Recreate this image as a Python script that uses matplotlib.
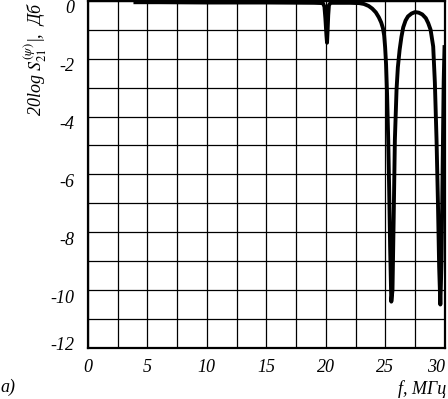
import matplotlib.pyplot as plt
import matplotlib.transforms as mtransforms
import numpy as np

# f, MHz and transmission, dB
freq = [4.0, 6.0, 10.0, 15.0, 19.0, 19.75, 19.88, 19.96, 20.05, 20.1, 20.15,
        20.2, 20.26, 20.4, 21.0, 22.0, 22.8, 23.2, 23.6, 23.9, 24.2, 24.45,
        24.65, 24.8, 24.9, 24.98, 25.06, 25.15, 25.24, 25.32, 25.4, 25.5, 25.6,
        25.7, 25.8, 25.94, 26.05, 26.2, 26.35, 26.5, 26.7, 26.9, 27.2, 27.5,
        27.8, 28.1, 28.4, 28.6, 28.8, 29.02, 29.16, 29.3, 29.42, 29.52, 29.62,
        29.72, 29.82, 29.9, 29.97]
gain = [-0.05, -0.05, -0.06, -0.06, -0.07, -0.08, -0.2, -0.6, -1.2, -1.45, -1.0,
        -0.5, -0.15, -0.07, -0.07, -0.07, -0.08, -0.11, -0.18, -0.27, -0.4, -0.57,
        -0.75, -0.95, -1.2, -1.6, -2.2, -3.3, -4.79, -6.5, -8.5, -10.4, -10.0,
        -7.5, -4.8, -3.07, -2.3, -1.69, -1.25, -0.92, -0.68, -0.54, -0.44, -0.39,
        -0.41, -0.47, -0.6, -0.77, -1.0, -1.58, -2.83, -4.8, -7.0, -9.2, -10.5,
        -9.0, -5.5, -2.8, -1.6]

x_ticks = [0, 5, 10, 15, 20, 25, 30]
y_ticks = [0, -2, -4, -6, -8, -10, -12]

plt.rcParams['font.family'] = ['Liberation Serif', 'DejaVu Serif']
plt.rcParams['mathtext.fontset'] = 'stix'
plt.rcParams['axes.unicode_minus'] = False

fig = plt.figure(figsize=(4.48, 3.99), dpi=100)
ax = fig.add_axes([0.196, 0.128, 0.797, 0.870])
ax.plot(freq, gain, color='black', lw=2.8, solid_joinstyle='round', zorder=5)

ax.set_xlim(0, 30)
ax.set_ylim(-12, 0)
ax.set_xticks(x_ticks)
ax.set_yticks(y_ticks)
ax.set_xticks(np.arange(0, 30.1, 2.5), minor=True)
ax.set_yticks(np.arange(-12, 0.1, 1), minor=True)
ax.grid(True, which='both', color='black', lw=0.9)
ax.tick_params(which='both', length=0, labelsize=13)
ax.tick_params(axis='x', pad=8)
ax.tick_params(axis='y', pad=10)
for s in ax.spines.values():
    s.set_linewidth(1.6)

fig.canvas.draw()
for lab in ax.get_xticklabels() + ax.get_yticklabels():
    lab.set_style('italic')
# y labels in the original sit a little below their grid lines
ylabs = ax.get_yticklabels()
for lab in ylabs[:-1]:
    lab.set_transform(lab.get_transform() +
                      mtransforms.ScaledTranslation(0, -0.06, fig.dpi_scale_trans))
ylabs[-1].set_transform(ylabs[-1].get_transform() +
                        mtransforms.ScaledTranslation(0, 0.04, fig.dpi_scale_trans))
last = ax.get_xticklabels()[-1]
last.set_transform(last.get_transform() +
                   mtransforms.ScaledTranslation(-0.09, 0, fig.dpi_scale_trans))

fig.text(0.08, 0.997, r"20log $S_{21}^{(\psi)}$|,  Дб", rotation=90,
         ha='center', va='top', fontsize=13, style='italic')
fig.text(0.995, 0.025, "f, МГц", ha='right', va='center', fontsize=13,
         style='italic')
fig.text(0.0, 0.03, "а)", ha='left', va='center', fontsize=13, style='italic')

fig.savefig("out.png", dpi=100)
